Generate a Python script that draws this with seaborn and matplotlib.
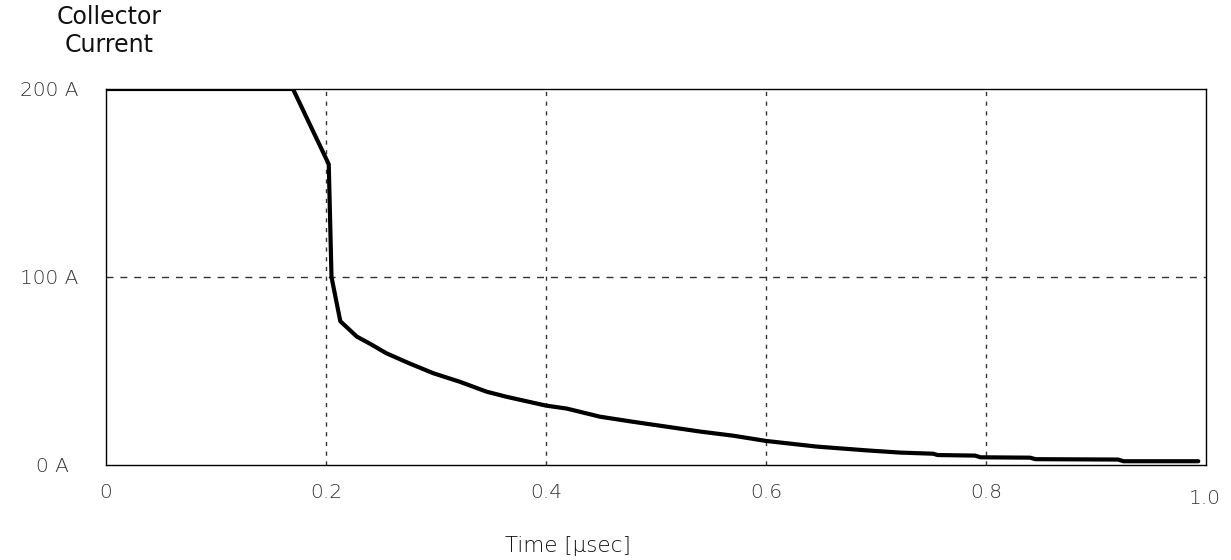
import matplotlib
matplotlib.use("Agg")
import matplotlib.pyplot as plt
import matplotlib.transforms as mtransforms
import seaborn as sns
import pandas as pd

# Collector current during IGBT turn-off
time_us = [0.0, 0.170, 0.2025, 0.205, 0.213, 0.228, 0.240, 0.255, 0.276, 0.2976,
           0.322, 0.346, 0.364, 0.400, 0.419, 0.449, 0.479, 0.540, 0.570, 0.600,
           0.646, 0.691, 0.722, 0.752, 0.756, 0.790, 0.795, 0.840, 0.845, 0.920,
           0.925, 0.993]
current_a = [200, 200, 160, 100, 76.5, 68.3, 64.5, 59.4, 54, 48.8,
             44.2, 39.0, 36.3, 31.6, 30.0, 25.7, 23.0, 17.8, 15.6, 12.8,
             9.8, 7.8, 6.6, 6.0, 5.3, 5.0, 4.1, 3.9, 3.1, 2.9,
             2.0, 2.0]

x_ticks = [0, 0.2, 0.4, 0.6, 0.8, 1.0]
x_tick_labels = ["0", "0.2", "0.4", "0.6", "0.8", "1.0"]
y_ticks = [0, 100, 200]
y_tick_labels = ["0 A", "100 A", "200 A"]

df = pd.DataFrame({"time": time_us, "current": current_a})

sns.set_style("white")
plt.rcParams["font.family"] = ["DejaVu Sans"]

fig = plt.figure(figsize=(12.31, 5.6), dpi=100)
ax = fig.add_axes([106 / 1231, 1 - 465 / 560, 1100 / 1231, 376 / 560])

sns.lineplot(data=df, x="time", y="current", ax=ax, color="black",
             linewidth=3.0, solid_joinstyle="miter")

ax.set_xlim(0, 1.0)
ax.set_ylim(0, 200)

# Grid lines
for xv in [0.2, 0.4, 0.6, 0.8]:
    ax.axvline(xv, color="#333333", linewidth=1.0, linestyle=(0, (3, 4)), zorder=0)
ax.axhline(100, color="#333333", linewidth=1.0, linestyle=(0, (5, 5)), zorder=0)

ax.set_xticks(x_ticks)
ax.set_xticklabels(x_tick_labels)
ax.set_yticks(y_ticks)
ax.set_yticklabels(y_tick_labels)
ax.tick_params(axis="both", direction="inout", length=8, width=0.8,
               color="#f5c0c0", labelsize=14.5, labelcolor="#333333")
ax.tick_params(axis="x", pad=9)
ax.tick_params(axis="y", pad=16)
for lab in ax.get_xticklabels() + ax.get_yticklabels():
    lab.set_fontweight("light")

# the last x label and the bottom y label sit slightly apart from the rest
xlabs = ax.get_xticklabels()
xlabs[-1].set_transform(xlabs[-1].get_transform() +
                        mtransforms.ScaledTranslation(-1 / 100, -6 / 100, fig.dpi_scale_trans))
ylabs = ax.get_yticklabels()
ylabs[0].set_transform(ylabs[0].get_transform() +
                       mtransforms.ScaledTranslation(-9 / 100, 0, fig.dpi_scale_trans))

for s in ax.spines.values():
    s.set_visible(True)
    s.set_color("black")
    s.set_linewidth(1.0)

ax.set_xlabel("")
ax.set_ylabel("")
fig.text(568 / 1231, 1 - 546 / 560, "Time [µsec]", ha="center", va="center",
         fontsize=15.5, color="#111111", fontweight="light")

fig.text(109 / 1231, 1 - 31 / 560, "Collector\nCurrent", ha="center",
         va="center", fontsize=17, color="#111111", linespacing=1.22)

fig.savefig("out.png", dpi=100)
